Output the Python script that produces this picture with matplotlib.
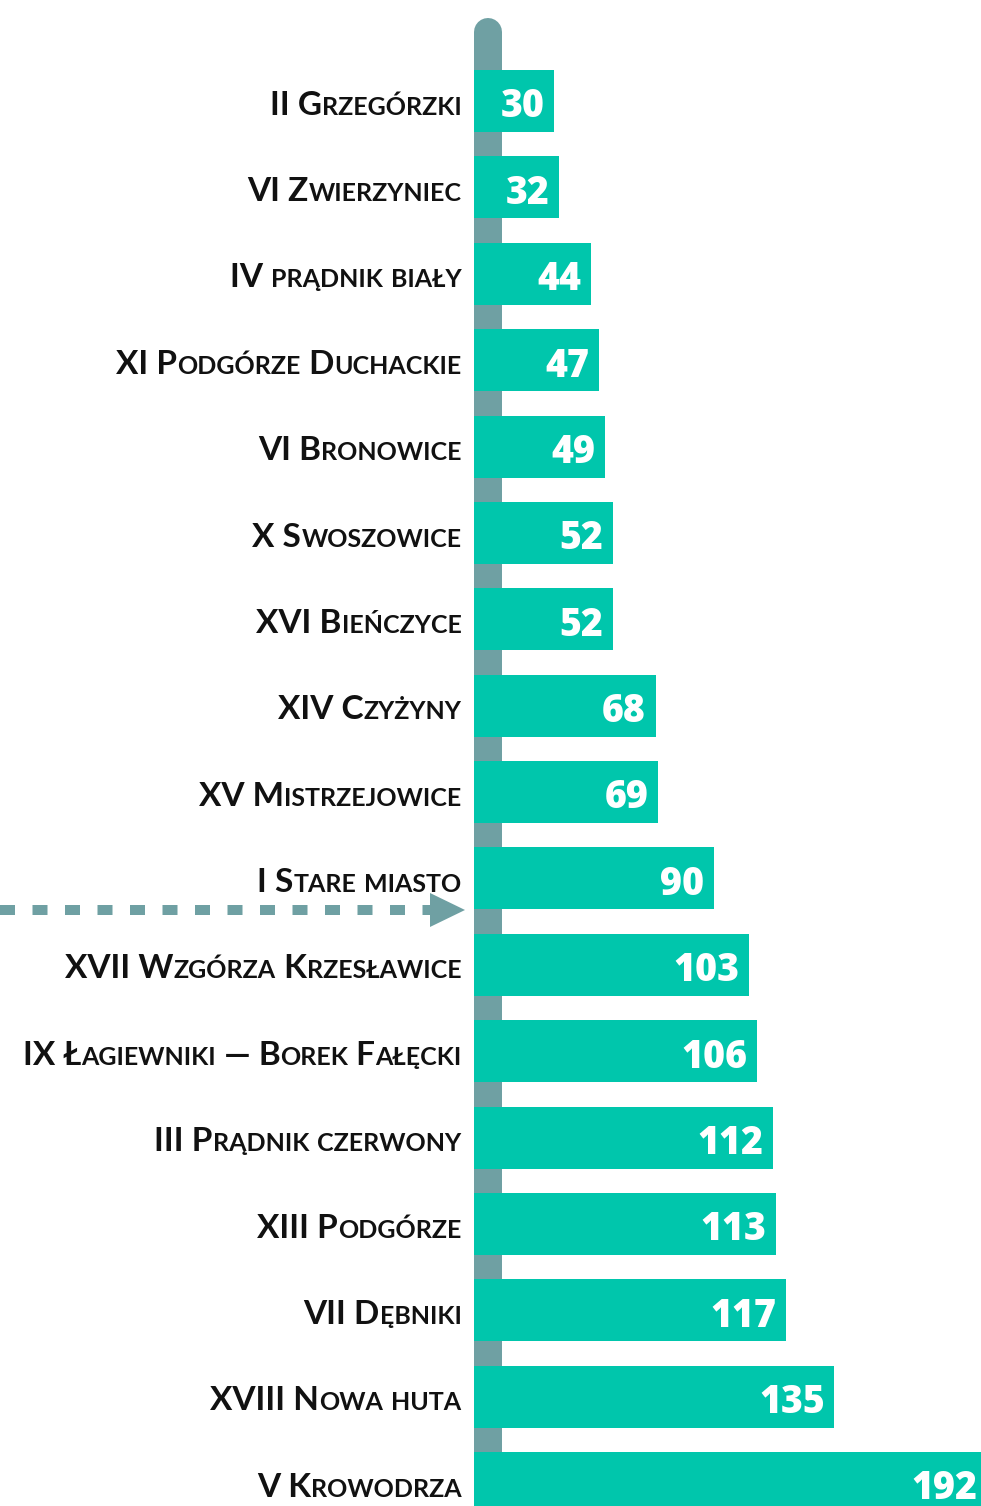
import matplotlib
matplotlib.use("Agg")
import matplotlib.pyplot as plt
from matplotlib.offsetbox import TextArea, HPacker, AnnotationBbox
from matplotlib.transforms import blended_transform_factory
from matplotlib.patches import Polygon

# dane
dzielnice = [
    "II Grzegórzki", "VI Zwierzyniec", "IV prądnik biały", "XI Podgórze Duchackie",
    "VI Bronowice", "X Swoszowice", "XVI Bieńczyce", "XIV Czyżyny",
    "XV Mistrzejowice", "I Stare miasto", "XVII Wzgórza Krzesławice",
    "IX Łagiewniki — Borek Fałęcki", "III Prądnik czerwony", "XIII Podgórze",
    "VII Dębniki", "XVIII Nowa huta", "V Krowodrza",
]
wartosci = [30, 32, 44, 47, 49, 52, 52, 68, 69, 90, 103, 106, 112, 113, 117, 135, 192]
srednia_poz = 9.366  # strzalka miedzy I Stare miasto a XVII

TURKUS = "#00c6ac"
SZARY = "#6fa0a3"
FONT = ["Lato", "DejaVu Sans"]
FONT_LICZBY = ["Open Sans", "Lato", "DejaVu Sans"]

W, H = 981, 1506
fig = plt.figure(figsize=(W / 100, H / 100), dpi=100)

# tlo na strzalke (wspolrzedne w pikselach)
ax0 = fig.add_axes([0, 0, 1, 1])
ax0.set_xlim(0, W)
ax0.set_ylim(H, 0)
ax0.axis("off")

x0 = 474
skala = 2.67  # px na jednostke
krok = 86.375
y_start = 101

ax = fig.add_axes([x0 / W, 0, (W - x0) / W, 1])
ax.set_xlim(0, (W - x0) / skala)
ax.set_ylim((H - y_start) / krok, -y_start / krok)
ax.axis("off")

# pionowa szara "os"
ax.plot([14 / skala, 14 / skala], [(32 - y_start) / krok, 20], color=SZARY,
        lw=28 * 0.72, solid_capstyle="round", zorder=1)

ypos = list(range(len(dzielnice)))
ax.barh(ypos, wartosci, height=62 / krok, color=TURKUS, zorder=2)

for y, v in zip(ypos, wartosci):
    ax.annotate(str(v), (v, y), xytext=(-7, -1), textcoords="offset points",
                ha="right", va="center_baseline", color="white", fontsize=27,
                fontweight=800, family=FONT_LICZBY, zorder=3,
                annotation_clip=False)

# etykiety kapitalikami
def kapitaliki(tekst, duzy=24, maly=18):
    runs = []
    for ch in tekst:
        big = not ch.islower()
        if runs and runs[-1][1] == big:
            runs[-1][0] += ch
        else:
            runs.append([ch, big])
    dzieci = [TextArea(t if big else t.upper(),
                       textprops=dict(fontsize=duzy if big else maly, fontweight="bold",
                                      family=FONT, color="#111111"))
              for t, big in runs]
    return HPacker(children=dzieci, align="baseline", pad=0, sep=0)

tr = blended_transform_factory(ax.transAxes, ax.transData)
for y, nazwa in zip(ypos, dzielnice):
    ab = AnnotationBbox(kapitaliki(nazwa), (0, y), xycoords=tr,
                        xybox=(-9, -3), boxcoords="offset points",
                        box_alignment=(1, 0.5), frameon=False,
                        annotation_clip=False)
    ax.add_artist(ab)

# strzalka przerywana
ya = y_start + srednia_poz * krok
ax0.plot([0, 431], [ya, ya], color=SZARY, lw=10 * 0.72,
         linestyle=(0, (1.5, 1.75)), solid_capstyle="butt", dash_capstyle="butt")
ax0.add_patch(Polygon([[430, ya - 17], [465, ya], [430, ya + 17]], closed=True,
                      color=SZARY, lw=0))

fig.savefig("out.png", dpi=100)
